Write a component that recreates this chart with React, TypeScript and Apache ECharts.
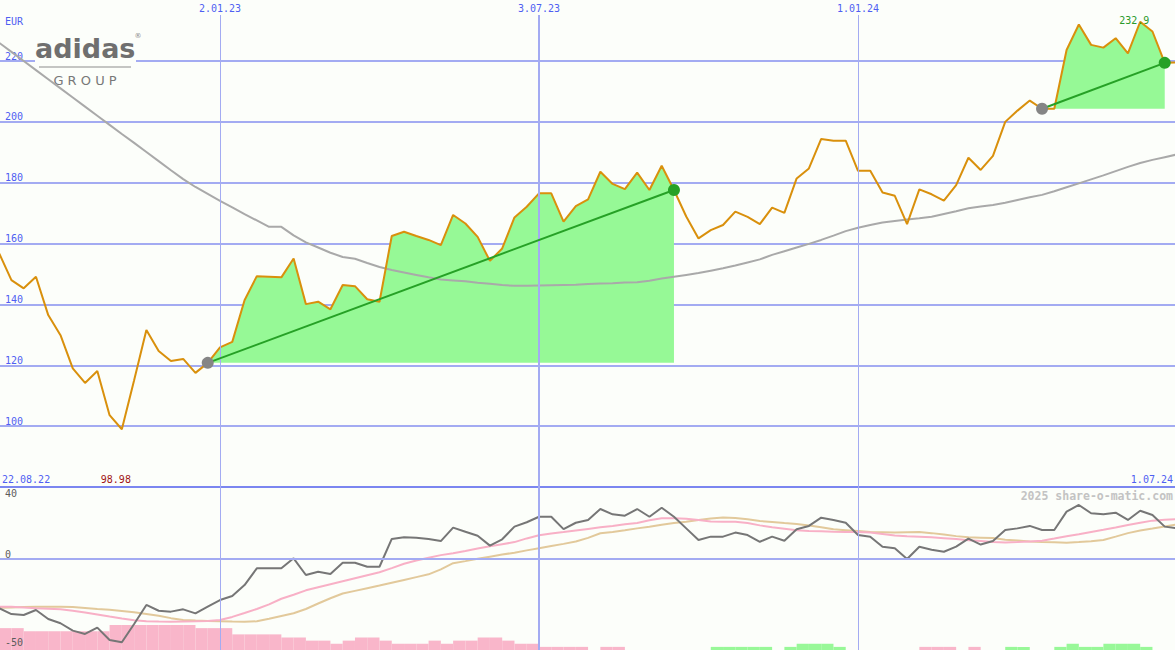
import React, { useEffect, useRef } from 'react';
import * as echarts from 'echarts';

// ---------- data (weekly, first week 29.08.22) ----------
const firstWeek = Date.UTC(2022, 7, 29);
const currency = 'EUR';
const rangeStartLabel = '22.08.22';
const rangeEndLabel = '1.07.24';
const copyright = '2025 share-o-matic.com';

const price = [
  156.8, 148.0, 145.3, 149.1, 136.5, 129.9, 119.0, 114.2, 118.1, 103.6,
  98.98, 115.1, 131.6, 124.7, 121.4, 122.1, 117.5, 120.8, 125.9, 127.7,
  141.4, 149.3, 149.1, 148.9, 155.1, 140.1, 140.9, 138.4, 146.4, 146.0,
  141.7, 140.9, 162.5, 163.9, 162.5, 161.2, 159.5, 169.4, 166.6, 162.2,
  154.3, 158.4, 168.6, 172.1, 176.5, 176.5, 167.2, 172.3, 174.5, 183.6,
  179.6, 177.9, 183.3, 177.6, 185.6, 177.6, 168.9, 161.7, 164.4, 166.1,
  170.5, 168.8, 166.4, 171.8, 170.1, 181.4, 184.7, 194.4, 193.8, 193.8,
  183.9, 183.9, 176.8, 175.7, 166.4, 177.8, 176.2, 174.1, 179.2, 188.2,
  184.2, 188.8, 200.0, 203.7, 207.0, 204.3, 204.3, 223.6, 232.0, 225.3,
  224.4, 227.5, 222.5, 232.9, 229.7, 219.4, 219.5,
];

const movingAverage = [
  226.0, 223.0, 220.0, 217.0, 214.0, 211.0, 208.0, 205.0, 202.0, 199.0,
  196.0, 193.1, 190.1, 187.1, 184.1, 181.2, 178.6, 176.3, 174.0, 171.9,
  169.7, 167.6, 165.5, 165.5, 162.7, 160.4, 158.7, 157.0, 155.6, 155.0,
  153.6, 152.3, 151.3, 150.5, 149.7, 148.9, 148.2, 147.9, 147.6, 147.1,
  146.8, 146.4, 146.1, 146.1, 146.2, 146.3, 146.4, 146.5, 146.7, 146.9,
  147.0, 147.2, 147.3, 147.8, 148.5, 149.1, 149.7, 150.3, 151.1, 151.9,
  152.8, 153.8, 154.8, 156.3, 157.5, 158.7, 159.9, 161.2, 162.6, 164.1,
  165.2, 166.1, 166.9, 167.4, 167.9, 168.3, 168.8, 169.7, 170.6, 171.6,
  172.2, 172.7, 173.4, 174.3, 175.2, 176.0, 177.2, 178.5, 179.8, 181.1,
  182.4, 183.8, 185.2, 186.5, 187.5, 188.4, 189.3,
];

const momentum = [
  -28.0, -31.3, -31.8, -29.0, -34.1, -36.5, -40.7, -42.6, -39.0, -46.0,
  -47.3, -36.9, -26.1, -29.4, -29.9, -28.6, -30.9, -27.1, -23.3, -21.0,
  -14.8, -5.3, -5.3, -5.3, 0.4, -9.1, -7.2, -8.5, -2.1, -2.1,
  -4.4, -4.4, 11.4, 12.3, 12.1, 11.4, 10.2, 17.8, 15.5, 13.2,
  7.6, 11.2, 18.4, 20.9, 24.0, 24.0, 17.0, 20.6, 22.2, 28.4,
  25.4, 24.6, 28.4, 24.0, 29.1, 24.0, 17.4, 10.8, 12.7, 12.7,
  15.0, 13.6, 9.8, 12.7, 10.4, 16.9, 18.8, 23.5, 22.2, 20.6,
  13.6, 12.7, 7.0, 6.1, 0.0, 7.0, 5.3, 4.1, 7.0, 11.6,
  8.2, 10.2, 16.5, 17.4, 18.8, 16.5, 16.5, 26.9, 30.7, 26.0,
  25.4, 26.3, 22.2, 27.4, 25.0, 18.4, 17.4,
];

const signalFast = [
  -27.1, -27.1, -27.5, -28.0, -28.2, -28.5, -29.4, -30.4, -31.5, -32.7,
  -33.8, -34.8, -35.3, -35.5, -35.6, -35.5, -35.4, -35.2, -34.7, -32.9,
  -30.7, -28.4, -25.8, -22.6, -20.3, -17.8, -16.0, -14.3, -12.6, -10.9,
  -9.2, -7.5, -5.2, -2.7, -0.8, 0.7, 2.2, 3.3, 4.6, 6.0,
  7.2, 8.4, 9.6, 11.7, 13.5, 14.5, 15.3, 16.2, 17.1, 18.0,
  18.8, 19.7, 20.5, 22.0, 23.1, 23.1, 22.9, 22.2, 21.3, 21.2,
  21.2, 20.5, 19.1, 18.0, 17.2, 16.3, 15.9, 15.7, 15.5, 15.4,
  15.3, 15.0, 14.2, 13.4, 12.9, 12.6, 12.3, 11.8, 11.3, 10.7,
  10.2, 9.6, 9.4, 9.6, 10.0, 10.4, 11.6, 12.9, 14.1, 15.4,
  16.6, 17.9, 19.3, 20.6, 21.8, 22.3, 22.6,
];

const signalSlow = [
  -27.7, -27.5, -27.3, -27.1, -27.1, -27.1, -27.3, -27.8, -28.4, -28.9,
  -29.5, -30.3, -31.2, -32.2, -33.6, -34.6, -35.0, -35.2, -35.3, -35.5,
  -35.6, -35.4, -34.0, -32.4, -30.8, -28.4, -25.3, -22.3, -19.6, -18.1,
  -16.6, -15.1, -13.5, -11.9, -10.3, -8.7, -5.9, -2.4, -1.2, 0.1,
  1.3, 2.5, 3.6, 4.9, 6.1, 7.4, 8.6, 9.9, 12.0, 14.6,
  15.3, 16.3, 17.4, 18.3, 19.5, 20.4, 21.2, 22.1, 23.0, 23.6,
  23.3, 22.6, 21.6, 21.0, 20.4, 19.9, 19.0, 18.0, 16.9, 16.4,
  15.9, 15.4, 15.2, 15.0, 15.2, 15.3, 14.7, 13.9, 13.0, 12.3,
  12.1, 11.9, 11.0, 10.5, 10.0, 9.7, 9.5, 9.3, 9.6, 10.1,
  10.8, 12.7, 14.7, 16.2, 17.3, 18.5, 19.7,
];

// signed weekly histogram (negative = pink, positive = green)
const histogram = [
  -7, -7, -6, -6, -6, -6, -6, -6, -6, -8,
  -8, -8, -8, -8, -8, -8, -7, -7, -7, -5,
  -5, -5, -5, -4, -4, -3, -3, -2, -3, -4,
  -4, -3, -2, -2, -2, -3, -2, -3, -3, -4,
  -4, -3, -2, -2, -1, -1, -1, -1, 0, -1,
  -1, 0, 0, 0, 0, 0, 0, 0, 1, 1,
  1, 1, 1, 0, 1, 2, 2, 2, 1, 0,
  0, 0, 0, 0, 0, -1, -1, -1, 0, -1,
  0, 0, 1, 1, 0, 0, 1, 2, 1, 1,
  2, 2, 2, 1, 0, 0, 0,
];

// trend segments: [start week index, end week index]
const trendSegments = [
  [17, 55],
  [85, 95],
];

const verticalMarks = [
  { date: Date.UTC(2023, 0, 2), label: '2.01.23', major: false },
  { date: Date.UTC(2023, 6, 3), label: '3.07.23', major: true },
  { date: Date.UTC(2024, 0, 1), label: '1.01.24', major: false },
];
const lowerLabels = [0, -50];
const lowerTopLabel = [40];

// ---------- style ----------
const DAY = 86400000;
const BG = '#fcfefa';
const BLUE = '#4f5ff2';
const GRID = '#a3abf2';
const MONO = '"DejaVu Sans Mono", monospace';
const refDay = Date.UTC(2023, 0, 2);
const xMin = refDay - 125.52 * DAY;
const xMax = refDay + 544.86 * DAY;

const dates = price.map((_, i) => firstWeek + i * 7 * DAY);
const pair = (arr: number[]) => arr.map((v, i) => [dates[i], v]);

function buildOption() {
  const fills = trendSegments.map(([s, e]) => ({
    type: 'line',
    xAxisIndex: 0,
    yAxisIndex: 0,
    z: 2,
    symbol: 'none',
    silent: true,
    data: pair(price).slice(s, e + 1),
    lineStyle: { width: 0 },
    areaStyle: { color: '#96f996', opacity: 1, origin: price[s] },
  }));
  const trends = trendSegments.map(([s, e]) => ({
    type: 'line',
    xAxisIndex: 0,
    yAxisIndex: 0,
    z: 6,
    symbol: 'circle',
    symbolSize: 12,
    showSymbol: true,
    silent: true,
    lineStyle: { color: '#26a126', width: 2 },
    data: [
      { value: [dates[s], price[s]], itemStyle: { color: '#858585' } },
      { value: [dates[e], price[e]], itemStyle: { color: '#26a126' } },
    ],
  }));
  // each histogram item spans one week: [weekStart, weekEnd, height, sign]
  const histData = histogram
    .map((v, i) => [dates[i], dates[i] + 7 * DAY, Math.abs(v), Math.sign(v)])
    .filter((d) => d[2] > 0);

  return {
    animation: false,
    backgroundColor: BG,
    grid: [
      { left: 0, right: 0, top: 15, height: 472 },
      { left: 0, right: 0, top: 487, height: 163 },
    ],
    xAxis: [
      {
        type: 'time', gridIndex: 0, min: xMin, max: xMax,
        axisLine: { show: true, onZero: false, lineStyle: { color: '#7b86f0', width: 2 } },
        axisTick: { show: false }, axisLabel: { show: false }, splitLine: { show: false },
      },
      {
        type: 'time', gridIndex: 1, min: xMin, max: xMax,
        axisLine: { show: false }, axisTick: { show: false }, axisLabel: { show: false }, splitLine: { show: false },
      },
    ],
    yAxis: [
      {
        type: 'value', gridIndex: 0, position: 'left', min: 80, max: 235.12, interval: 20,
        name: currency, nameLocation: 'end', nameGap: -11,
        nameTextStyle: { color: BLUE, fontFamily: MONO, fontSize: 10, align: 'left', padding: [0, 0, 0, 5] },
        axisLine: { show: false }, axisTick: { show: false },
        splitLine: { show: true, showMinLine: false, showMaxLine: false, lineStyle: { color: GRID, width: 2 } },
        axisLabel: {
          inside: true, margin: 5, verticalAlign: 'bottom', color: BLUE, fontFamily: MONO, fontSize: 10,
          showMinLabel: false, showMaxLabel: false,
          formatter: (v: number) => (v % 20 === 0 ? String(v) : ''),
        },
      },
      {
        type: 'value', gridIndex: 1, position: 'left', offset: 0, min: -51.7, max: 40.91, z: 10,
        axisLine: { show: false }, axisTick: { show: false }, splitLine: { show: false },
        axisLabel: {
          inside: true, margin: 5, verticalAlign: 'bottom', color: '#5c5c5c', fontFamily: MONO, fontSize: 10,
          customValues: lowerLabels,
        },
      },
      {
        type: 'value', gridIndex: 1, position: 'left', offset: 0, min: -51.7, max: 40.91, z: 10,
        axisLine: { show: false }, axisTick: { show: false }, splitLine: { show: false },
        axisLabel: {
          inside: true, margin: 5, verticalAlign: 'top', color: '#5c5c5c', fontFamily: MONO, fontSize: 10,
          customValues: lowerTopLabel,
        },
      },
      {
        type: 'value', gridIndex: 1, position: 'right', min: 0, max: 52.16, show: false,
      },
    ],
    graphic: [
      { type: 'rect', z: 1, shape: { x: 35, y: 33, width: 101, height: 31 }, style: { fill: BG } },
      {
        type: 'text', z: 1, x: 35, y: 48,
        style: { text: 'adidas', fill: '#6f6f6f', font: 'bold 27px "DejaVu Sans"', align: 'left', verticalAlign: 'middle', textAlign: 'left', textVerticalAlign: 'middle' },
      },
      {
        type: 'text', z: 1, x: 138, y: 36,
        style: { text: '®', fill: '#8a8a8a', font: '7px "DejaVu Sans"', align: 'center', verticalAlign: 'middle', textAlign: 'center', textVerticalAlign: 'middle' },
      },
      { type: 'line', z: 1, shape: { x1: 39, y1: 67, x2: 131, y2: 67 }, style: { stroke: '#8c8c8c', lineWidth: 1 } },
      {
        type: 'text', z: 1, x: 85, y: 80,
        style: { text: 'G R O U P', fill: '#787878', font: '13px "DejaVu Sans"', align: 'center', verticalAlign: 'middle', textAlign: 'center', textVerticalAlign: 'middle' },
      },
      {
        type: 'text', z: 10, x: 2, y: 479,
        style: { text: rangeStartLabel, fill: BLUE, font: '10px ' + MONO, align: 'left', verticalAlign: 'middle', textAlign: 'left', textVerticalAlign: 'middle' },
      },
      {
        type: 'text', z: 10, x: 1173, y: 479,
        style: { text: rangeEndLabel, fill: BLUE, font: '10px ' + MONO, align: 'right', verticalAlign: 'middle', textAlign: 'right', textVerticalAlign: 'middle' },
      },
      {
        type: 'text', z: 10, x: 1173, y: 496,
        style: { text: copyright, fill: '#c3c3c3', font: 'bold 11.5px ' + MONO, align: 'right', verticalAlign: 'middle', textAlign: 'right', textVerticalAlign: 'middle' },
      },
    ],
    series: [
      {
        type: 'line', name: 'vlines-top', xAxisIndex: 0, yAxisIndex: 0, z: 1, clip: false, data: [],
        markLine: {
          silent: true, symbol: ['none', 'none'], animation: false,
          label: { show: true, position: 'end', distance: 2, formatter: '{b}', color: BLUE, fontFamily: MONO, fontSize: 10 },
          data: verticalMarks.map((m) => ({
            xAxis: m.date, name: m.label,
            lineStyle: { color: GRID, width: m.major ? 2 : 1, type: 'solid' },
          })),
        },
      },
      ...fills,
      {
        type: 'line', name: 'MA', xAxisIndex: 0, yAxisIndex: 0, z: 3, symbol: 'none', silent: true,
        data: pair(movingAverage), lineStyle: { color: '#a9a9a9', width: 2 },
      },
      {
        type: 'line', name: 'Kurs', xAxisIndex: 0, yAxisIndex: 0, z: 4, symbol: 'none', silent: true,
        data: pair(price), lineStyle: { color: '#d9900c', width: 2 },
        markPoint: {
          symbol: 'circle', symbolSize: 0, silent: true, animation: false,
          data: [
            { type: 'max', label: { show: true, position: 'inside', offset: [-6, -1], formatter: '{c}', color: '#2a9a2a', fontFamily: MONO, fontSize: 10 } },
            { type: 'min', label: { show: true, position: 'inside', offset: [-6, 50], formatter: '{c}', color: '#a01414', fontFamily: MONO, fontSize: 10 } },
          ],
        },
      },
      ...trends,
      {
        type: 'line', name: 'vlines-bottom', xAxisIndex: 1, yAxisIndex: 1, z: 1, clip: false, data: [],
        markLine: {
          silent: true, symbol: ['none', 'none'], animation: false, label: { show: false },
          data: [
            ...verticalMarks.map((m) => ({ xAxis: m.date, lineStyle: { color: GRID, width: m.major ? 2 : 1, type: 'solid' } })),
            { yAxis: 0, lineStyle: { color: GRID, width: 2, type: 'solid' } },
          ],
        },
      },
      {
        type: 'custom', name: 'histogram', xAxisIndex: 1, yAxisIndex: 3, z: 2, silent: true,
        data: histData,
        encode: { x: [0, 1], y: 2 },
        renderItem: (params: any, api: any) => {
          const p0 = api.coord([api.value(0), 0]);
          const p1 = api.coord([api.value(1), api.value(2)]);
          return {
            type: 'rect',
            shape: { x: p0[0], y: p1[1], width: p1[0] - p0[0], height: p0[1] - p1[1] },
            style: { fill: api.value(3) < 0 ? '#f9b6ca' : '#98f898' },
          };
        },
      },
      {
        type: 'line', name: 'slow', xAxisIndex: 1, yAxisIndex: 1, z: 3, symbol: 'none', silent: true,
        data: pair(signalSlow), lineStyle: { color: '#e2c99b', width: 2 },
      },
      {
        type: 'line', name: 'fast', xAxisIndex: 1, yAxisIndex: 1, z: 3, symbol: 'none', silent: true,
        data: pair(signalFast), lineStyle: { color: '#f8b0c6', width: 2 },
      },
      {
        type: 'line', name: 'momentum', xAxisIndex: 1, yAxisIndex: 1, z: 4, symbol: 'none', silent: true,
        data: pair(momentum), lineStyle: { color: '#767676', width: 2 },
      },
    ],
  };
}

export default function App() {
  const ref = useRef<HTMLDivElement>(null);
  useEffect(() => {
    if (!ref.current) return;
    const chart = echarts.init(ref.current, undefined, { renderer: 'svg' });
    chart.setOption(buildOption() as any);
    return () => chart.dispose();
  }, []);
  return (
    <div
      ref={ref}
      style={{ position: 'fixed', left: 0, top: 0, width: 1175, height: 650, background: BG }}
    />
  );
}
